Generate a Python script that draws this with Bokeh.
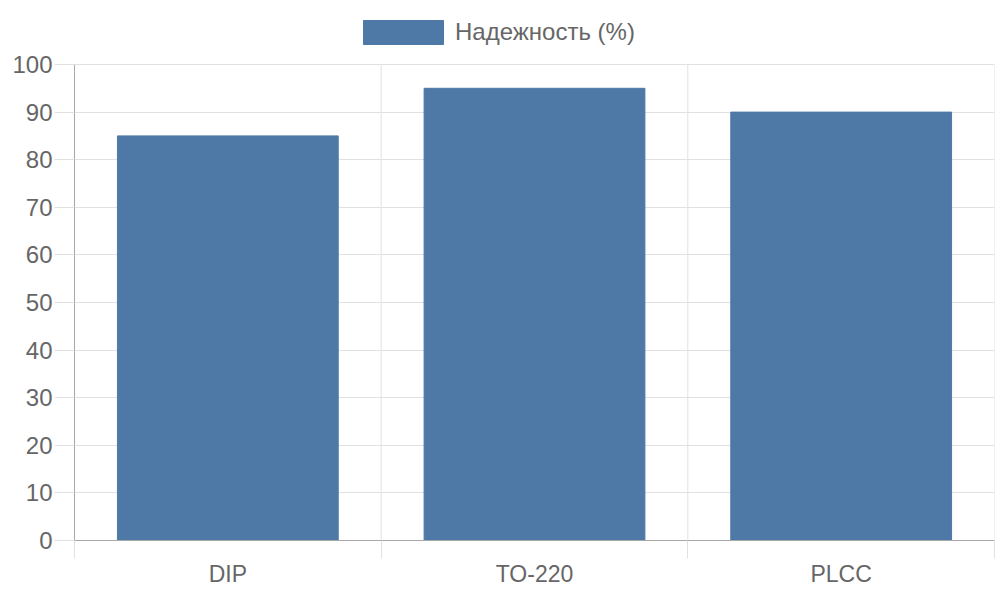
import numpy as np
from bokeh.plotting import figure
from bokeh.models import (Range1d, FixedTicker, Legend, LegendItem, ColumnDataSource)
from bokeh.embed import file_html
from bokeh.resources import INLINE

categories = ["DIP", "TO-220", "PLCC"]
reliability = [85, 95, 90]
series_name = "Надежность (%)"
y_ticks = list(range(0, 101, 10))

FONT = "Liberation Sans"
TEXT = "#666666"
BAR = "#4e79a7"
GRID = "#e1e1e1"
AXIS = "#a8a8a8"

# layout (pixels)
W, H = 1000, 600
LEFT, RIGHT, BOTTOM = 74, 6, 60
PLOT_TOP = 64                      # pixel row of the y-axis maximum
frame_h = H - BOTTOM
y_max = y_ticks[-1]
y_end = y_max * frame_h / (frame_h - PLOT_TOP)   # leave room for legend above the axis

xs = np.arange(len(categories)) + 0.5
bounds = np.arange(len(categories) + 1)
src = ColumnDataSource(dict(x=xs, top=reliability, cat=categories))

p = figure(width=W, height=H, output_backend="svg", toolbar_location=None,
           x_range=Range1d(0, len(categories)), y_range=Range1d(0, y_end),
           min_border_left=LEFT, min_border_right=RIGHT, min_border_top=0, min_border_bottom=BOTTOM)
p.outline_line_color = None
p.xgrid.visible = False
p.ygrid.ticker = FixedTicker(ticks=y_ticks)
p.ygrid.grid_line_color = GRID

# vertical category separators (grid lines) limited to the axis extent
p.segment(x0=bounds, y0=[0] * len(bounds), x1=bounds, y1=[y_max] * len(bounds),
          line_color=GRID, line_width=1)

r = p.vbar(x="x", top="top", width=0.72, bottom=0, source=src, fill_color=BAR, line_color=BAR)

# y axis
ya = p.yaxis[0]
ya.bounds = (0, y_max)
ya.ticker = FixedTicker(ticks=y_ticks)
ya.axis_line_color = AXIS
ya.major_tick_line_color = GRID
ya.major_tick_out = 20
ya.major_tick_in = 0
ya.minor_tick_line_color = None
ya.major_label_standoff = 2
ya.major_label_text_font = FONT
ya.major_label_text_font_size = "24px"
ya.major_label_text_color = TEXT

# x axis
xa = p.xaxis[0]
xa.ticker = FixedTicker(ticks=list(xs), minor_ticks=list(bounds))
xa.major_label_overrides = {float(x): c for x, c in zip(xs, categories)}
xa.axis_line_color = AXIS
xa.major_tick_line_color = None
xa.major_tick_out = 0
xa.major_tick_in = 0
xa.minor_tick_line_color = GRID
xa.minor_tick_out = 18
xa.minor_tick_in = 0
xa.major_label_standoff = 2
xa.major_label_text_font = FONT
xa.major_label_text_font_size = "23px"
xa.major_label_text_color = TEXT

legend = Legend(items=[LegendItem(label=series_name, renderers=[r])],
                location=(279, frame_h - 47), orientation="horizontal",
                glyph_width=100, glyph_height=30, label_standoff=2,
                label_text_font=FONT, label_text_font_size="24px", label_text_color=TEXT,
                border_line_color=None, background_fill_alpha=0, padding=0, margin=0)
p.add_layout(legend, "center")

open("out.html", "w").write(file_html(p, INLINE))
